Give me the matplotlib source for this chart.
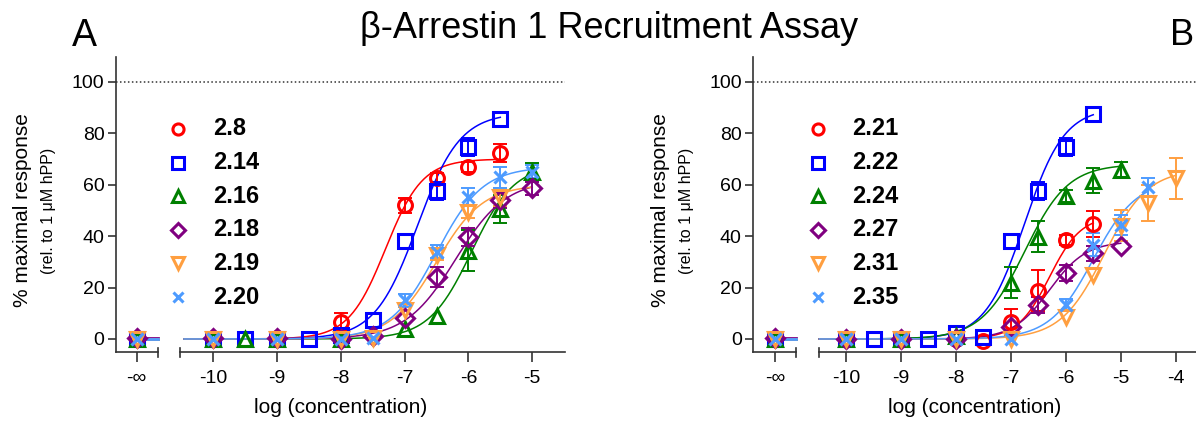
import numpy as np
import matplotlib.pyplot as plt

plt.rcParams['font.family'] = ['Liberation Sans', 'DejaVu Sans']

# ---- panel A data (log M, % of max response) ----
a_labels = ['2.8', '2.14', '2.16', '2.18', '2.19', '2.20']
a_x = [
    [-10, -9, -8, -7, -6.5, -6, -5.5],
    [-10, -9.5, -9, -8.5, -8, -7.5, -7, -6.5, -6, -5.5],
    [-10, -9.5, -9, -8, -7, -6.5, -6, -5.5, -5],
    [-10, -9, -8, -7.5, -7, -6.5, -6, -5.5, -5],
    [-10, -9, -8, -7.5, -7, -6.5, -6, -5.5],
    [-10, -9, -8, -7.5, -7, -6.5, -6, -5.5, -5],
]
a_y = [
    [0, 0.5, 6.5, 52, 62.5, 67, 72.5],
    [0, 0, 0, 0, 1.5, 7.4, 38, 57.7, 74.6, 85.6],
    [0, 0, 0, 0, 3.8, 9, 34.4, 50.6, 65],
    [0.5, 0.5, 0, 1, 8, 24.2, 39.8, 54, 58.6],
    [0, 0, 0, 0.5, 11.3, 32.7, 49.5, 55.4],
    [0, 0, 0, 0.5, 15, 34, 55.4, 62.9, 65],
]
# SEM; 0 where the bar is hidden by the symbol
a_err = [
    [0, 0, 3.5, 3, 2, 2, 3.5],
    [0, 0, 0, 0, 0, 0, 0, 3.5, 3.5, 0],
    [0, 0, 0, 0, 0, 0, 8, 5.5, 3.5],
    [0, 0, 0, 0, 0, 4, 3.5, 3, 2.5],
    [0, 0, 0, 0, 0, 2, 2.5, 3.5],
    [0, 0, 0, 0, 2.5, 2.5, 3.5, 4, 2.5],
]
a_vehicle = [0, 0, 0, 0.5, 0, 0]          # response at -inf (no ligand)
# fitted sigmoid: top, logEC50, Hill slope, last concentration of fit
a_top = [70, 88, 68, 62, 60, 67]
a_logec50 = [-7.3, -6.8, -5.95, -6.2, -6.5, -6.5]
a_hill = [1.5, 1.3, 1.3, 1.1, 1.2, 1.2]
a_fit_end = [-5.5, -5.5, -5, -5, -5, -5]

# ---- panel B data ----
b_labels = ['2.21', '2.22', '2.24', '2.27', '2.31', '2.35']
b_x = [
    [-10, -9, -8, -7.5, -7, -6.5, -6, -5.5],
    [-10, -9.5, -9, -8.5, -8, -7.5, -7, -6.5, -6, -5.5],
    [-10, -9, -8, -7, -6.5, -6, -5.5, -5],
    [-10, -9, -8, -7, -6.5, -6, -5.5, -5],
    [-10, -9, -8, -7, -6, -5.5, -5, -4.5, -4],
    [-10, -9, -8, -7, -6, -5.5, -5, -4.5],
]
b_y = [
    [0, 0, 0, -0.7, 6.5, 18.8, 38.5, 44.7],
    [0, 0, 0, 0, 2.2, 0.9, 38.1, 57.7, 74.6, 87.5],
    [0, 0, 1, 21.9, 39.8, 55.6, 61.6, 65.8],
    [0, 0, 0, 4.8, 13.2, 25.6, 33.3, 36.2],
    [0, 0, 0, 0, 8.7, 24.9, 44, 52.8, 62.5],
    [0, 0, 0, 0, 13.2, 36.6, 44.4, 59],
]
b_err = [
    [0, 0, 0, 0, 5, 8, 2, 5],
    [0, 0, 0, 0, 0, 0, 0, 3.5, 3.5, 0],
    [0, 0, 0, 6, 6, 2.5, 5, 3],
    [0, 0, 0, 0, 3, 3, 3, 0],
    [0, 0, 0, 0, 0, 0, 6, 7, 8],
    [0, 0, 0, 0, 2.5, 4.5, 4, 3.5],
]
b_vehicle = [0, 0, 0, 0.5, 0, 0]
b_top = [48, 90, 68, 38, 66, 62]
b_logec50 = [-6.3, -6.75, -6.75, -6.3, -5.3, -5.5]
b_hill = [1.5, 1.2, 1.1, 1.3, 1.1, 1.1]
b_fit_end = [-5.5, -5.5, -5, -5, -4, -4.5]

colors = ['#FF0000', '#0000FF', '#008000', '#800080', '#FF9F40', '#4D9BFF']
markers = ['o', 's', '^', 'D', 'v', 'x']
msizes = [10, 10, 10, 9, 10, 9]


def hill(x, top, logec50, slope):
    return top / (1 + 10 ** ((logec50 - x) * slope))


def draw_panel(ax, labels, xs, ys, errs, vehicle, tops, ec50s, slopes, fit_end,
               xlim, inf_pos, inf_cap, main_start, fit_start, xticks, leg_x):
    ax.set_xlim(*xlim)
    ax.set_ylim(-5.06, 109.7)

    for i in range(len(labels)):
        c = colors[i]
        # fitted curve, plus the short flat piece next to the -inf point
        xf = np.linspace(fit_start, fit_end[i], 300)
        ax.plot(xf, hill(xf, tops[i], ec50s[i], slopes[i]), color=c, lw=1.1, zorder=2)
        ax.plot([inf_pos, inf_cap], [vehicle[i], vehicle[i]], color=c, lw=2, zorder=2)

        px = np.array([inf_pos] + xs[i])
        py = np.array([vehicle[i]] + ys[i])
        pe = np.array([0] + errs[i])
        show = pe > 0
        ax.errorbar(px[show], py[show], yerr=pe[show], fmt='none', ecolor=c,
                    elinewidth=1.4, capsize=5, capthick=1.4, zorder=3)
        ax.plot(px, py, ls='none', marker=markers[i], ms=msizes[i], mfc='none',
                mec=c, mew=2.2, zorder=4)

        # legend entry
        ly = 0.756 - i * 0.114
        ax.plot([leg_x], [ly], ls='none', marker=markers[i], ms=msizes[i] - 2,
                mfc='none', mec=c, mew=2.2, transform=ax.transAxes, clip_on=False)
        ax.text(leg_x + 0.078, ly, labels[i], transform=ax.transAxes, fontsize=17,
                fontweight='bold', va='center', ha='left')

    ax.axhline(100, color='#333333', lw=1.1, ls=(0, (1, 1.6)), zorder=1)

    ax.spines['top'].set_visible(False)
    ax.spines['right'].set_visible(False)
    ax.spines['bottom'].set_visible(False)
    ax.spines['left'].set_linewidth(1.2)
    ax.spines['left'].set_color('#333333')

    # broken x axis: one stub for -inf, then the log scale
    tr = ax.get_xaxis_transform()
    axis_kw = dict(color='#333333', lw=1.2, transform=tr, clip_on=False)
    ax.plot([xlim[0], inf_cap], [0, 0], **axis_kw)
    ax.plot([main_start, xlim[1]], [0, 0], **axis_kw)
    for xc in (inf_cap, main_start):
        ax.plot([xc, xc], [-0.018, 0.012], **axis_kw)

    ax.set_xticks([inf_pos] + xticks)
    ax.set_xticklabels(['-\u221e'] + [str(t) for t in xticks])
    ax.set_yticks([0, 20, 40, 60, 80, 100])
    ax.set_yticklabels(['0', '20', '40', '60', '80', '100'])
    ax.tick_params(axis='x', length=7, width=1.2, color='#333333', labelsize=14, pad=6)
    ax.tick_params(axis='y', length=6, width=1.2, color='#333333', labelsize=14, pad=2)
    ax.set_xlabel('log (concentration)', fontsize=15, labelpad=8)


fig = plt.figure(figsize=(11.96, 4.21), dpi=100)
ax_a = fig.add_axes([0.0966, 0.1639, 0.3758, 0.7007])
ax_b = fig.add_axes([0.6294, 0.1639, 0.3706, 0.7007])

draw_panel(ax_a, a_labels, a_x, a_y, a_err, a_vehicle, a_top, a_logec50, a_hill,
           a_fit_end, xlim=(-11.531, -4.486), inf_pos=-11.199, inf_cap=-10.865,
           main_start=-10.52, fit_start=-10.458, xticks=[-10, -9, -8, -7, -6, -5],
           leg_x=0.139)
draw_panel(ax_b, b_labels, b_x, b_y, b_err, b_vehicle, b_top, b_logec50, b_hill,
           b_fit_end, xlim=(-11.698, -3.63), inf_pos=-11.292, inf_cap=-10.91,
           main_start=-10.486, fit_start=-10.486, xticks=[-10, -9, -8, -7, -6, -5, -4],
           leg_x=0.147)

for x0 in (0.0192, 0.5526):
    fig.text(x0, 0.5, '% maximal response', rotation=90, fontsize=15,
             ha='center', va='center')
    fig.text(x0 + 0.021, 0.5, '(rel. to 1 \u03bcM hPP)', rotation=90, fontsize=11.5,
             ha='center', va='center')

fig.text(0.509, 1 - 38.5 / 421, '\u03b2-Arrestin 1 Recruitment Assay', fontsize=26,
         ha='center', va='baseline')
fig.text(72 / 1196, 1 - 46.5 / 421, 'A', fontsize=27, ha='left', va='baseline')
fig.text(1170 / 1196, 1 - 45 / 421, 'B', fontsize=26, ha='left', va='baseline')

fig.savefig('out.png', dpi=100)
